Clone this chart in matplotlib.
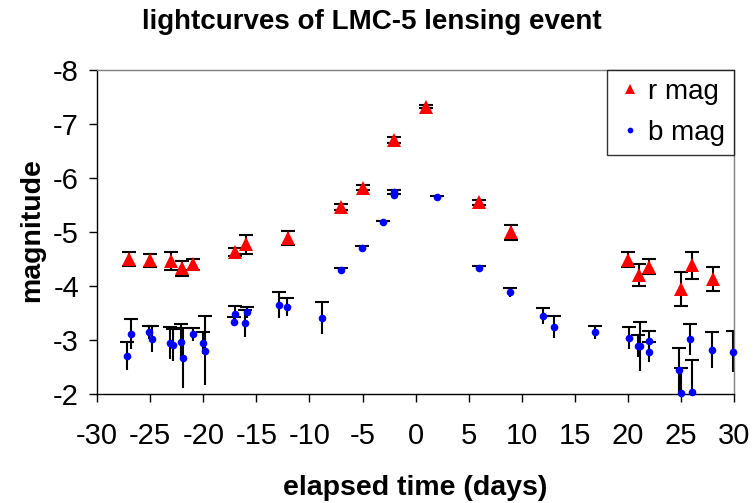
import matplotlib
matplotlib.use("Agg")
import matplotlib.pyplot as plt

plt.rcParams['font.family'] = ['Liberation Sans', 'DejaVu Sans']

# r-band light curve: elapsed days, magnitude, error
r_days = [-27, -25, -23, -22, -21, -17, -16, -12, -7, -5, -2, 1, 6, 9,
          20, 21, 22, 25, 26, 28]
r_mag = [-4.50, -4.48, -4.46, -4.33, -4.40, -4.63, -4.77, -4.89, -5.46, -5.82,
         -6.70, -7.32, -5.55, -4.99, -4.49, -4.20, -4.36, -3.94, -4.38, -4.13]
r_err = [0.13, 0.12, 0.17, 0.14, 0.10, 0.08, 0.17, 0.13, 0.06, 0.05,
         0.05, 0.03, 0.05, 0.13, 0.14, 0.20, 0.14, 0.32, 0.25, 0.23]

# b-band light curve: elapsed days, magnitude, error
b_days = [-27.2, -26.8, -25.15, -24.8, -23.1, -22.9, -22.1, -21.9, -21.0,
          -20.05, -19.8, -17.15, -17.0, -16.1, -15.9, -12.9, -12.1, -8.85,
          -7.0, -5.1, -3.1, -2.0, -2.0, 2.0, 6.0, 8.9, 12.0, 13.0, 16.9,
          20.05, 20.95, 21.15, 21.95, 21.95, 24.85, 25.0, 25.85, 26.0,
          27.9, 29.9]
b_mag = [-2.70, -3.11, -3.14, -3.01, -2.94, -2.91, -2.97, -2.67, -3.11,
         -2.94, -2.80, -3.34, -3.48, -3.31, -3.51, -3.65, -3.61, -3.41,
         -4.29, -4.71, -5.18, -5.74, -5.68, -5.65, -4.34, -3.88, -3.45, -3.24,
         -3.14, -3.04, -2.89, -2.88, -2.98, -2.78, -2.45, -2.01, -3.01, -2.04,
         -2.81, -2.78]
b_err = [0.26, 0.28, 0.12, 0.24, 0.30, 0.30, 0.32, 0.55, 0.12, 0.20, 0.64,
         0.08, 0.15, 0.25, 0.10, 0.24, 0.17, 0.30, 0.05, 0.03, 0.03, 0.03,
         0.03, 0.02, 0.03, 0.09, 0.15, 0.21, 0.12, 0.20, 0.20, 0.45, 0.19,
         0.18, 0.41, 0.48, 0.29, 0.59, 0.33, 0.38]

x_ticks = [-30, -25, -20, -15, -10, -5, 0, 5, 10, 15, 20, 25, 30]
y_ticks = [-8, -7, -6, -5, -4, -3, -2]

fig = plt.figure(figsize=(7.53, 5.03), dpi=100)
ax = fig.add_axes([0.129, 0.2167, 0.846, 0.6443])

# error bars (behind markers)
ax.errorbar(r_days, r_mag, yerr=r_err, fmt='none', ecolor='black',
            elinewidth=1.5, capsize=4.7, capthick=1.5, zorder=2)
_, b_caps, _ = ax.errorbar(b_days, b_mag, yerr=b_err, fmt='none',
                           ecolor='black', elinewidth=1.5, capsize=4.7,
                           capthick=1.5, zorder=2)
# blue bars carry a cap only on the bright end
b_caps[1].set_visible(False)

ax.plot(r_days, r_mag, linestyle='none', marker='^', markersize=9.5,
        color='#ff0000', markeredgewidth=0, label='r mag', zorder=3,
        clip_on=False)
ax.plot(b_days, b_mag, linestyle='none', marker='o', markersize=5.5,
        color='#0000ff', markeredgewidth=0, label='b mag', zorder=3,
        clip_on=False)

ax.set_xlim(-30, 30)
ax.set_ylim(-2, -8)
ax.set_xticks(x_ticks)
ax.set_yticks(y_ticks)
ax.set_xticklabels([str(v) for v in x_ticks])
ax.set_yticklabels([str(v) for v in y_ticks])
ax.tick_params(axis='both', direction='out', length=6, width=1,
               labelsize=21, color='black')
ax.tick_params(axis='x', pad=14)
ax.tick_params(axis='y', pad=7)

for side in ('left', 'bottom'):
    ax.spines[side].set_color('black')
    ax.spines[side].set_linewidth(1)
for side in ('top', 'right'):
    ax.spines[side].set_color('#808080')
    ax.spines[side].set_linewidth(1)

leg = ax.legend(loc='upper right', bbox_to_anchor=(1.0, 1.0),
                borderaxespad=0, fontsize=20, frameon=True, fancybox=False,
                handletextpad=0.15, handlelength=1.0, borderpad=0.32,
                labelspacing=0.55, markerscale=0.75)
leg.get_frame().set_edgecolor('black')
leg.get_frame().set_linewidth(1)

fig.text(0.494, 0.956, 'lightcurves of LMC-5 lensing event', ha='center',
         va='center', fontsize=20, fontweight='bold')
fig.text(0.552, 0.030, 'elapsed time (days)', ha='center', va='center',
         fontsize=20.5, fontweight='bold')
fig.text(0.042, 0.543, 'magnitude', ha='center', va='center', rotation=90,
         fontsize=20.5, fontweight='bold')

fig.savefig('out.png', dpi=100)
